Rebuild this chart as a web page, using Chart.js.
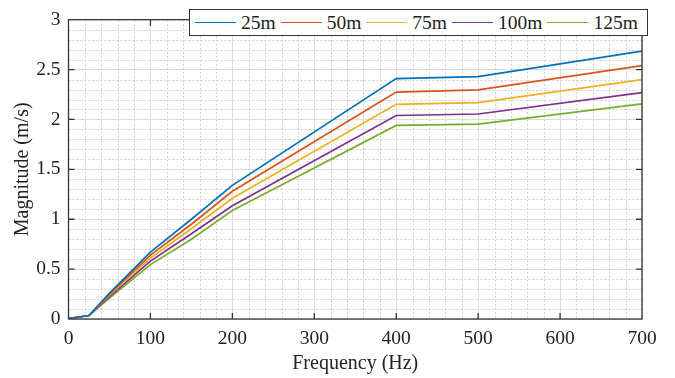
<!DOCTYPE html>
<html>
<head>
<meta charset="utf-8">
<script src="https://cdn.jsdelivr.net/npm/chart.js@4.4.1/dist/chart.umd.min.js"></script>
<style>
  body { margin: 0; background: #fff; }
  #wrap { position: relative; width: 675px; height: 378px; }
  #legend {
    position: absolute; left: 189px; top: 9px; width: 452px; height: 25px;
    border: 1.3px solid #333; background: #fff;
    display: flex; align-items: center; padding-left: 5px; box-sizing: content-box;
    font-family: 'Liberation Serif'; font-size: 19.5px; color: #222;
  }
  #legend .item { display: flex; align-items: center; margin-right: 5px; }
  #legend .swatch { width: 41px; height: 0; border-top: 1.6px solid; margin-right: 5px; }
</style>
</head>
<body>
<div id="wrap">
  <canvas id="chart"></canvas>
  <div id="legend"></div>
</div>
<script>
const freqs = [0, 25, 50, 100, 150, 200, 400, 500, 700];
const labels = ['25m', '50m', '75m', '100m', '125m'];
const m25 = [0.005, 0.035, 0.26, 0.67, 1.0, 1.34, 2.41, 2.43, 2.685];
const m50 = [0.005, 0.035, 0.25, 0.64, 0.95, 1.28, 2.275, 2.297, 2.54];
const m75 = [0.005, 0.035, 0.24, 0.61, 0.905, 1.21, 2.152, 2.168, 2.40];
const m100 = [0.005, 0.035, 0.225, 0.58, 0.855, 1.135, 2.04, 2.055, 2.27];
const m125 = [0.005, 0.035, 0.21, 0.545, 0.80, 1.087, 1.94, 1.953, 2.156];
const colors = ['#0072BD', '#D95319', '#EDB120', '#7E2F8E', '#77AC30'];

const series = [m25, m50, m75, m100, m125];
const font = 'Liberation Serif';
Chart.defaults.font.family = font;

// minor dotted grid + box frame + inward ticks, MATLAB style
const frame = {
  id: 'frame',
  beforeDatasetsDraw(chart) {
    const { ctx, chartArea: a, scales: { x, y } } = chart;
    ctx.save();
    ctx.strokeStyle = '#cfcfcf';
    ctx.lineWidth = 1;
    ctx.setLineDash([2, 2]);
    for (let v = 20; v < 700; v += 20) {
      if (v % 100 === 0) continue;
      const px = Math.round(x.getPixelForValue(v)) + 0.5;
      ctx.beginPath(); ctx.moveTo(px, a.top); ctx.lineTo(px, a.bottom); ctx.stroke();
    }
    for (let i = 1; i < 30; i++) {
      if (i % 5 === 0) continue;
      const py = Math.round(y.getPixelForValue(i / 10)) + 0.5;
      ctx.beginPath(); ctx.moveTo(a.left, py); ctx.lineTo(a.right, py); ctx.stroke();
    }
    ctx.restore();
  },
  afterDatasetsDraw(chart) {
    const { ctx, chartArea: a, scales: { x, y } } = chart;
    ctx.save();
    ctx.strokeStyle = '#333';
    ctx.lineWidth = 1.3;
    ctx.strokeRect(a.left, a.top, a.right - a.left, a.bottom - a.top);
    const t = 6;
    ctx.beginPath();
    for (let v = 100; v < 700; v += 100) {
      const px = x.getPixelForValue(v);
      ctx.moveTo(px, a.bottom); ctx.lineTo(px, a.bottom - t);
      ctx.moveTo(px, a.top); ctx.lineTo(px, a.top + t);
    }
    for (let v = 0.5; v < 3; v += 0.5) {
      const py = y.getPixelForValue(v);
      ctx.moveTo(a.left, py); ctx.lineTo(a.left + t, py);
      ctx.moveTo(a.right, py); ctx.lineTo(a.right - t, py);
    }
    ctx.stroke();
    ctx.restore();
  }
};

function draw() {
  new Chart(document.getElementById('chart'), {
    type: 'line',
    data: {
      datasets: series.map((s, i) => ({
        label: labels[i],
        data: freqs.map((f, j) => ({ x: f, y: s[j] })),
        borderColor: colors[i],
        borderWidth: 1.7,
        pointRadius: 0,
        tension: 0
      }))
    },
    options: {
      responsive: true,
      maintainAspectRatio: false,
      animation: false,
      layout: { padding: { top: 9, right: 33, left: 0, bottom: 0 } },
      plugins: { legend: { display: false }, tooltip: { enabled: false } },
      scales: {
        x: {
          type: 'linear', min: 0, max: 700,
          afterFit(s) { s.height = 59; },
          ticks: { stepSize: 100, padding: 8, color: '#222', font: { family: font, size: 19.5 }, maxRotation: 0 },
          grid: { color: '#dcdcdc', drawTicks: false },
          border: { display: false },
          title: { display: true, text: 'Frequency (Hz)', color: '#222', font: { family: font, size: 20 }, padding: { top: 0, bottom: 2 } }
        },
        y: {
          min: 0, max: 3,
          afterFit(s) { s.width = 68.5; },
          ticks: { stepSize: 0.5, padding: 8, color: '#222', font: { family: font, size: 19.5 }, callback: v => String(v) },
          grid: { color: '#dcdcdc', drawTicks: false },
          border: { display: false },
          title: { display: true, text: 'Magnitude (m/s)', color: '#222', font: { family: font, size: 20 }, padding: { top: 11, bottom: 0 } }
        }
      }
    },
    plugins: [frame]
  });
}

const legend = document.getElementById('legend');
labels.forEach((l, i) => {
  const item = document.createElement('div');
  item.className = 'item';
  const sw = document.createElement('span');
  sw.className = 'swatch';
  sw.style.borderColor = colors[i];
  const tx = document.createElement('span');
  tx.textContent = l;
  item.appendChild(sw);
  item.appendChild(tx);
  legend.appendChild(item);
});

document.fonts.load('19px "Liberation Serif"').then(draw, draw);
</script>
</body>
</html>
